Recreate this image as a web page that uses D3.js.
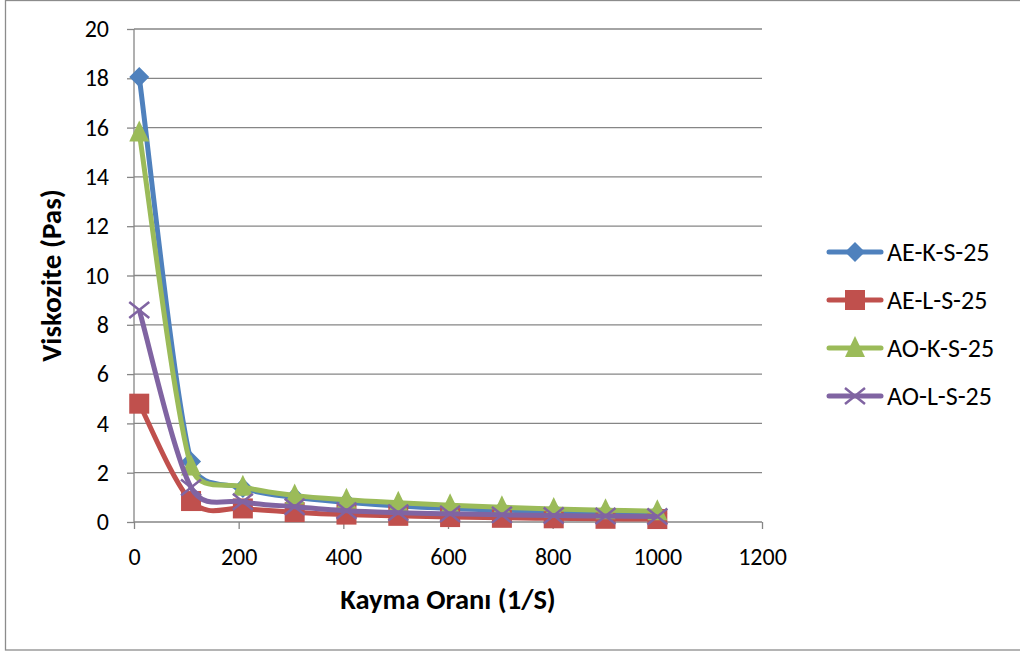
<!DOCTYPE html>
<html>
<head>
<meta charset="utf-8">
<script src="https://cdn.jsdelivr.net/npm/d3@7"></script>
<style>
  body { margin: 0; background: #fff; }
  text { font-family: Carlito, Calibri, Lato, sans-serif; fill: #000; }
</style>
</head>
<body>
<div id="chart"></div>
<script>
// data
const shearRate = [10, 109, 208, 307, 406, 505, 604, 703, 802, 901, 1000];
const aeKS25 = [18.05, 2.45, 1.38, 1.0, 0.8, 0.65, 0.55, 0.48, 0.42, 0.37, 0.33];
const aeLS25 = [4.8, 0.85, 0.55, 0.4, 0.3, 0.25, 0.2, 0.17, 0.15, 0.13, 0.12];
const aoKS25 = [15.8, 2.25, 1.43, 1.08, 0.9, 0.78, 0.68, 0.6, 0.53, 0.48, 0.44];
const aoLS25 = [8.6, 1.4, 0.82, 0.62, 0.46, 0.38, 0.33, 0.29, 0.26, 0.24, 0.22];
const seriesNames = ["AE-K-S-25", "AE-L-S-25", "AO-K-S-25", "AO-L-S-25"];
const xTicks = [0, 200, 400, 600, 800, 1000, 1200];
const yTicks = [0, 2, 4, 6, 8, 10, 12, 14, 16, 18, 20];

const width = 1020, height = 653,
  margin = { top: 29, bottom: 131, left: 134, right: 258 },
  colors = ["#4F81BD", "#C0504D", "#9BBB59", "#8064A2"],
  markers = ["diamond", "square", "triangle", "cross"];

const series = [aeKS25, aeLS25, aoKS25, aoLS25].map((vals, i) => ({
  name: seriesNames[i],
  color: colors[i],
  marker: markers[i],
  values: vals.map((v, j) => ({ x: shearRate[j], y: v }))
}));

const xScale = d3.scaleLinear().domain([0, 1200]).range([margin.left, width - margin.right]);
const yScale = d3.scaleLinear().domain([0, 20]).range([height - margin.bottom, margin.top]);

// spreadsheet-like smoothing: catmull-rom tangents, clamped by the neighbouring segment
function curveSmooth(context) {
  let pts;
  return {
    areaStart() {}, areaEnd() {},
    lineStart() { pts = []; },
    point(x, y) { pts.push([+x, +y]); },
    lineEnd() {
      const n = pts.length;
      if (!n) return;
      context.moveTo(pts[0][0], pts[0][1]);
      const tan = pts.map((p, i) => {
        const a = pts[Math.max(0, i - 1)], b = pts[Math.min(n - 1, i + 1)];
        return [(b[0] - a[0]) / 6, (b[1] - a[1]) / 6];
      });
      const clamp = (t, seg) => {
        const len = Math.hypot(t[0], t[1]), lim = 0.5 * seg;
        return len > lim ? [t[0] * lim / len, t[1] * lim / len] : t;
      };
      for (let i = 0; i < n - 1; i++) {
        const p0 = pts[i], p1 = pts[i + 1];
        const seg = Math.hypot(p1[0] - p0[0], p1[1] - p0[1]);
        const t0 = clamp(tan[i], seg), t1 = clamp(tan[i + 1], seg);
        context.bezierCurveTo(p0[0] + t0[0], p0[1] + t0[1], p1[0] - t1[0], p1[1] - t1[1], p1[0], p1[1]);
      }
    }
  };
}

const svg = d3.select("#chart").append("svg")
  .attr("width", width).attr("height", height);

// chart frame
svg.append("rect")
  .attr("x", 5.5).attr("y", 0.5)
  .attr("width", 1030).attr("height", 649.5)
  .attr("fill", "none").attr("stroke", "#8c8c8c").attr("stroke-width", 1.3);

// gridlines
svg.append("g").selectAll("line")
  .data(yTicks.slice(1))
  .join("line")
  .attr("x1", xScale(0)).attr("x2", xScale(1200))
  .attr("y1", d => yScale(d)).attr("y2", d => yScale(d))
  .attr("stroke", "#868686").attr("stroke-width", 1.3);

// axes
const xAxis = d3.axisBottom(xScale).tickValues(xTicks).tickFormat(d3.format("d")).tickSize(7).tickPadding(19);
const yAxis = d3.axisLeft(yScale).tickValues(yTicks).tickFormat(d3.format("d")).tickSize(7).tickPadding(18);

const gx = svg.append("g")
  .attr("transform", `translate(0,${yScale(0)})`)
  .call(xAxis);
const gy = svg.append("g")
  .attr("transform", `translate(${xScale(0)},0)`)
  .call(yAxis);
[gx, gy].forEach(g => {
  g.selectAll("path, line").attr("stroke", "#868686").attr("stroke-width", 1.3);
  g.select(".domain").attr("d", null);
  g.selectAll("text").style("font-size", "24px").attr("fill", "#000")
    .style("font-family", "Carlito, Calibri, Lato, sans-serif");
});
gx.append("line").attr("x1", xScale(0)).attr("x2", xScale(1200))
  .attr("stroke", "#868686").attr("stroke-width", 1.3);
gy.append("line").attr("y1", yScale(0)).attr("y2", yScale(20))
  .attr("stroke", "#868686").attr("stroke-width", 1.3);

// axis titles
svg.append("text")
  .attr("x", 448)
  .attr("y", 609)
  .attr("text-anchor", "middle")
  .style("font-size", "28.5px").style("font-weight", "bold")
  .text("Kayma Oranı (1/S)");
svg.append("text")
  .attr("transform", `translate(61,${(yScale(0) + yScale(20)) / 2}) rotate(-90)`)
  .attr("text-anchor", "middle")
  .style("font-size", "29px").style("font-weight", "bold")
  .text("Viskozite (Pas)");

// marker drawing
function drawMarker(g, type, color) {
  if (type === "diamond") {
    g.append("path").attr("d", "M0,-10L10,0L0,10L-10,0Z").attr("fill", color);
  } else if (type === "square") {
    g.append("rect").attr("x", -10).attr("y", -10)
      .attr("width", 20).attr("height", 20).attr("fill", color);
  } else if (type === "triangle") {
    g.append("path").attr("d", "M0,-12L10,9L-10,9Z").attr("fill", color);
  } else {
    g.append("path").attr("d", "M-10,-8L10,8M-10,8L10,-8")
      .attr("stroke", color).attr("stroke-width", 2.5).attr("fill", "none");
  }
}

const line = d3.line()
  .x(d => xScale(d.x))
  .y(d => yScale(d.y))
  .curve(curveSmooth);

const plot = svg.append("g");
series.forEach(s => {
  const g = plot.append("g");
  g.append("path")
    .datum(s.values)
    .attr("d", line)
    .attr("fill", "none")
    .attr("stroke", s.color)
    .attr("stroke-width", 5)
    .attr("stroke-linejoin", "round");
  g.selectAll("g.pt")
    .data(s.values)
    .join("g")
    .attr("class", "pt")
    .attr("transform", d => `translate(${xScale(d.x)},${yScale(d.y)})`)
    .each(function () { drawMarker(d3.select(this), s.marker, s.color); });
});

// legend
const legend = svg.append("g").attr("transform", "translate(829,252)");
series.forEach((s, i) => {
  const g = legend.append("g").attr("transform", `translate(0,${i * 48})`);
  g.append("line").attr("x1", 0).attr("x2", 52)
    .attr("stroke", s.color).attr("stroke-width", 5).attr("stroke-linecap", "round");
  const m = g.append("g").attr("transform", "translate(26,0)");
  drawMarker(m, s.marker, s.color);
  g.append("text").attr("x", 58).attr("y", 0).attr("dy", "0.35em")
    .style("font-size", "26px").text(s.name);
});
</script>
</body>
</html>
